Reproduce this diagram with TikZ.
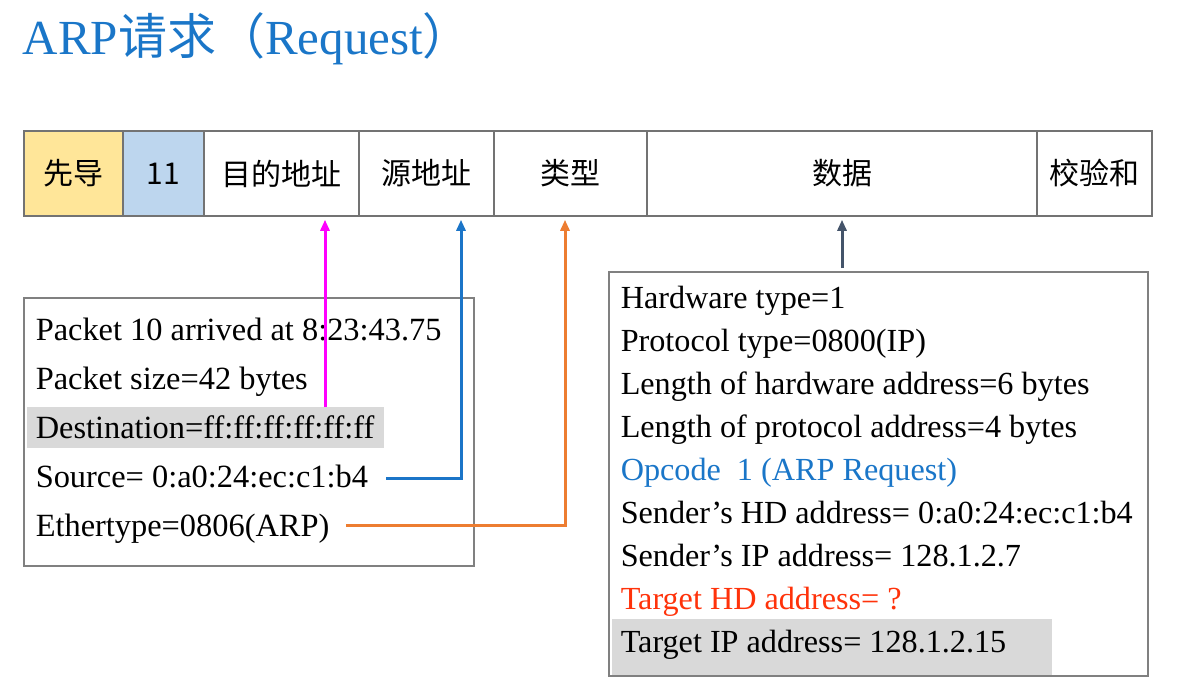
\documentclass[tikz,border=0pt]{standalone}
\usepackage{fontspec}
\setmainfont{Liberation Serif}
\newfontfamily\cjk{Noto Sans CJK SC}
\usetikzlibrary{arrows.meta}

\definecolor{preamble}{RGB}{255,230,153}
\definecolor{lenblue}{RGB}{189,214,238}
\definecolor{hl}{RGB}{217,217,217}
\definecolor{titleblue}{RGB}{26,118,200}
\definecolor{srcblue}{RGB}{27,117,200}
\definecolor{dstpink}{RGB}{255,0,255}
\definecolor{typeorange}{RGB}{237,125,49}
\definecolor{slate}{RGB}{68,84,106}
\definecolor{alertred}{RGB}{255,50,10}

\begin{document}
\begin{tikzpicture}[x=1pt,y=-1pt,line width=1.5pt]
    \tikzstyle{field}=[draw=black!55,minimum height=85pt,inner sep=0pt,font=\cjk\fontsize{30}{36}\selectfont]
    \tikzstyle{infobox}=[draw=black!50,inner sep=0pt]
    \tikzstyle{textline}=[anchor=base west,inner sep=0pt]
    \tikzstyle{big line}=[textline,font=\fontsize{32.4}{38}\selectfont]
    \tikzstyle{small line}=[textline,font=\fontsize{32.2}{37}\selectfont]
    \tikzstyle{link}=[line width=3pt,-{Triangle[length=11pt,width=9pt]},shorten >=3pt]

    \useasboundingbox (0,0) rectangle (1197,699);

    % Title
    \node[textline,text=titleblue,font=\fontsize{49}{56}\selectfont] (title) at (22,54)
        {ARP{\cjk 请求（}Request{\cjk ）}};

    % Draw the frame fields
    \foreach \name/\xa/\xb/\fc/\txt in {pre/24/123/preamble/先导, len/123/204/lenblue/11,
        dst/204/359/white/目的地址, src/359/494/white/源地址, type/494/647/white/类型,
        data/647/1037/white/数据, sum/1037/1152/white/校验和}
        \node[field,fill=\fc,minimum width={(\xb-\xa)*1pt}] (f-\name) at ({(\xa+\xb)/2},173.5) {\txt};

    % Packet summary box
    \node[infobox,minimum width=450pt,minimum height=268pt] (pkt) at (249,432) {};
    \fill[hl] (27,407) rectangle (384,448);
    \foreach \name/\y/\txt in {arr/340/Packet 10 arrived at 8:23:43.75, size/389/Packet size=42 bytes,
        dst/438/Destination=ff:ff:ff:ff:ff:ff, src/487/Source= 0:a0:24:ec:c1:b4,
        type/536/Ethertype=0806(ARP)}
        \node[big line] (p-\name) at (35,\y) {\txt};

    % ARP payload box
    \node[infobox,minimum width=539pt,minimum height=404pt] (arp) at (878.5,474) {};
    \fill[hl] (612,619) rectangle (1052,675);
    \foreach \name/\y/\col/\txt in {hw/308/black/Hardware type=1, proto/351/black/Protocol type=0800(IP),
        hwlen/394/black/Length of hardware address=6 bytes, plen/437/black/Length of protocol address=4 bytes,
        op/480/titleblue/Opcode\ \ 1 (ARP Request), shd/523/black/Sender’s HD address= 0:a0:24:ec:c1:b4,
        sip/566/black/Sender’s IP address= 128.1.2.7, thd/609/alertred/Target HD address= ?,
        tip/652/black/Target IP address= 128.1.2.15}
        \node[small line,text=\col] (a-\name) at (620,\y) {\txt};

    % Connect the fields of the packet with the frame
    \coordinate (m0) at (325,407);
    \draw[link,dstpink] (m0) -- (m0 |- f-dst.south);
    \coordinate (s0) at (386,478);
    \coordinate (s1) at (461,478);
    \draw[link,srcblue] (s0) -- (s1) -- (s1 |- f-src.south);
    \coordinate (t0) at (346,525);
    \coordinate (t1) at (565,525);
    \draw[link,typeorange] (t0) -- (t1) -- (t1 |- f-type.south);
    \coordinate (d0) at (842,268);
    \draw[link,slate] (d0) -- (d0 |- f-data.south);

\end{tikzpicture}
\end{document}
